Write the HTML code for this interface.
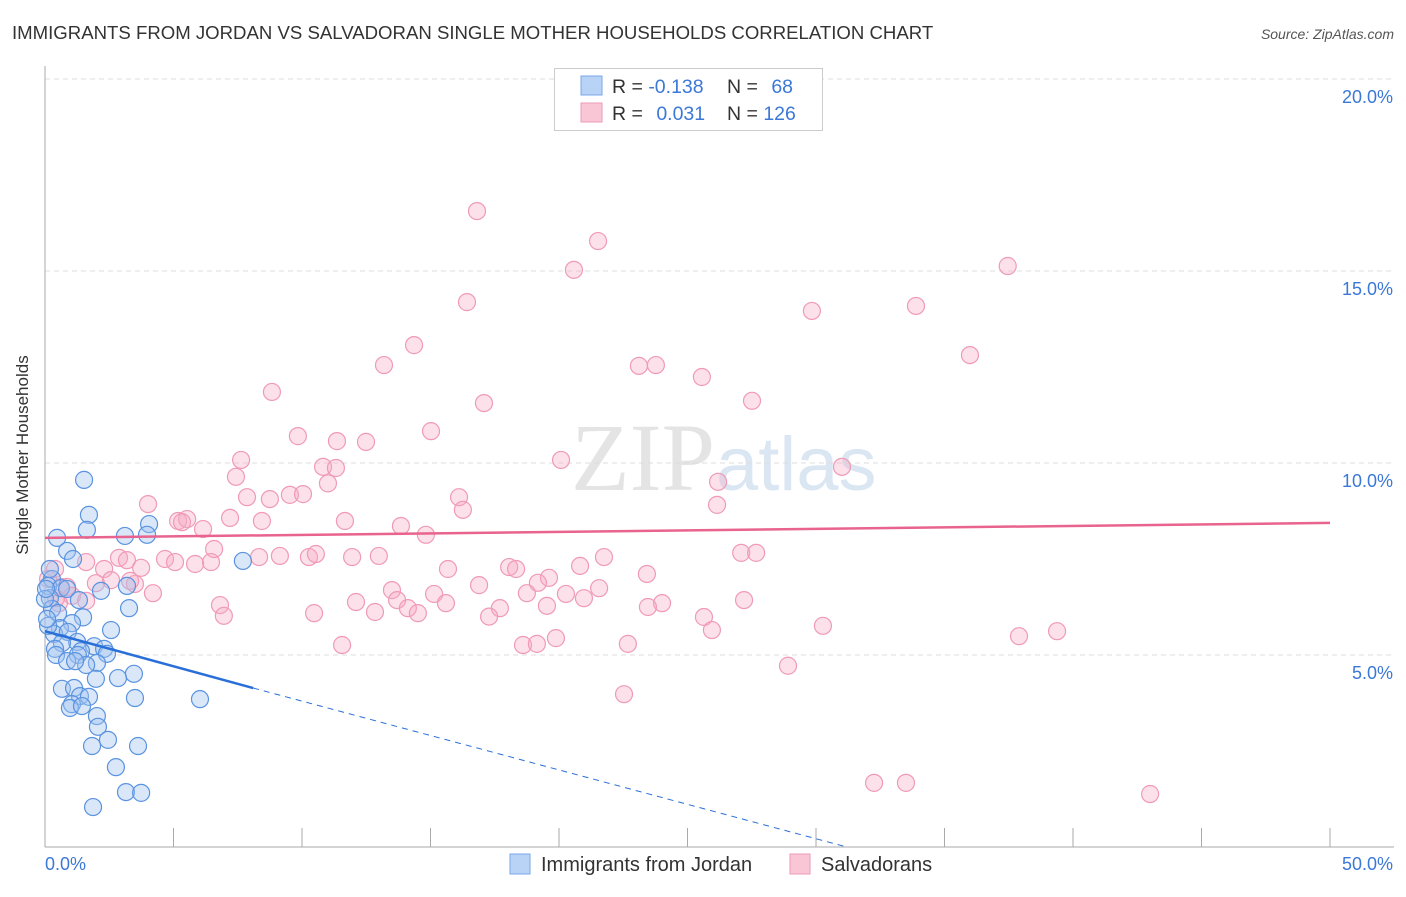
<!DOCTYPE html>
<html><head><meta charset="utf-8"><style>
body{margin:0;background:#fff;font-family:"Liberation Sans",sans-serif;}
</style></head><body>
<svg width="1406" height="892" viewBox="0 0 1406 892" xmlns="http://www.w3.org/2000/svg" font-family="Liberation Sans, sans-serif">
<text x="12" y="39" font-size="18.6" fill="#333">IMMIGRANTS FROM JORDAN VS SALVADORAN SINGLE MOTHER HOUSEHOLDS CORRELATION CHART</text>
<text x="1394" y="39" font-size="14" fill="#555" font-style="italic" text-anchor="end">Source: ZipAtlas.com</text>
<text x="715" y="490" font-size="96" fill="#e4e4e4" text-anchor="end" font-family="Liberation Serif, serif">ZIP</text>
<text x="716" y="490" font-size="76" fill="#dbe6f3">atlas</text>
<g id="grid"></g><g id="axes"></g><g id="pts"></g><g id="lines"></g>
<text x="28" y="455" font-size="17" fill="#333" text-anchor="middle" transform="rotate(-90 28 455)">Single Mother Households</text>
<g>
<rect x="554.5" y="68.5" width="268" height="62" fill="#fff" stroke="#ccc"/>
<rect x="581" y="76" width="21" height="19" fill="#b8d3f5" stroke="#7aa7e8"/>
<rect x="581" y="103" width="21" height="19" fill="#f9c6d6" stroke="#ee9ab4"/>
<text x="612" y="93" font-size="19.5" fill="#333">R = <tspan fill="#3b78d8">-0.138</tspan></text>
<text x="727" y="93" font-size="19.5" fill="#333">N = <tspan fill="#3b78d8" dx="8">68</tspan></text>
<text x="612" y="120" font-size="19.5" fill="#333">R = <tspan fill="#3b78d8" dx="8">0.031</tspan></text>
<text x="727" y="120" font-size="19.5" fill="#333">N = <tspan fill="#3b78d8">126</tspan></text>
</g>
<g>
<rect x="510" y="854" width="20" height="20" fill="#b8d3f5" stroke="#7aa7e8"/>
<text x="541" y="871" font-size="20" fill="#333">Immigrants from Jordan</text>
<rect x="790" y="854" width="20" height="20" fill="#f9c6d6" stroke="#ee9ab4"/>
<text x="821" y="871" font-size="20" fill="#333">Salvadorans</text>
</g>
</svg>
<script>
const yTicks=[5,10,15,20];
const xTickLabels=["0.0%","50.0%"];
const blueX=[1.52,1.71,1.63,4.05,3.97,3.11,0.47,0.86,1.09,7.70,0.27,0.12,0.62,2.18,3.19,0.86,0.19,1.32,0.27,0.51,3.27,1.48,1.05,0.58,2.57,0.35,0.89,0.12,1.25,0.66,1.91,0.39,1.40,2.30,1.28,2.41,0.43,0.86,2.02,1.60,1.17,3.46,2.84,1.98,0.66,1.13,1.36,1.71,3.50,6.03,1.05,0.97,1.44,2.02,2.06,2.45,1.83,3.62,2.76,3.15,3.74,1.87,0.0,0.08,0.04,0.19];
const blueY=[9.56,8.65,8.26,8.41,8.13,8.10,8.05,7.71,7.50,7.45,6.98,6.80,6.74,6.67,6.80,6.72,6.48,6.43,6.20,6.09,6.22,5.98,5.83,5.70,5.65,5.55,5.60,5.76,5.34,5.31,5.23,5.16,5.10,5.16,5.00,5.03,5.00,4.84,4.79,4.74,4.84,4.51,4.40,4.38,4.12,4.14,3.93,3.91,3.88,3.85,3.72,3.62,3.67,3.41,3.13,2.79,2.63,2.63,2.08,1.43,1.41,1.04,6.46,5.94,6.72,7.24];
const pinkX=[16.81,21.52,20.58,37.46,16.42,29.84,33.89,14.36,13.19,23.11,23.77,35.99,25.56,8.83,17.08,27.51,15.02,9.84,11.36,12.49,20.08,7.63,10.82,31.01,11.32,7.43,26.19,11.01,16.11,9.53,7.86,10.04,8.75,4.01,16.26,26.15,5.18,5.53,5.33,8.44,6.15,7.20,11.67,13.85,14.82,6.58,2.88,1.60,4.67,8.33,10.27,9.14,11.95,12.99,10.54,21.75,3.19,2.30,5.06,3.74,6.46,5.84,15.68,18.06,18.33,20.82,23.42,27.09,27.67,3.50,2.57,1.98,3.31,16.89,19.61,19.18,0.62,0.86,13.50,18.75,21.56,15.14,20.27,20.97,13.70,1.05,4.20,12.10,1.60,0.54,27.20,24.01,6.81,15.60,17.70,12.84,14.12,19.53,10.47,14.51,23.46,6.96,17.28,25.64,25.95,30.27,39.38,37.90,11.56,18.60,19.14,19.88,22.68,28.91,22.53,32.26,33.50,43.00,0.43,0.12,0.39];
const pinkY=[16.56,15.78,15.03,15.13,14.19,13.96,14.09,13.07,12.55,12.53,12.55,12.81,12.24,11.85,11.56,11.62,10.83,10.70,10.57,10.55,10.08,10.08,9.90,9.90,9.87,9.64,9.51,9.47,9.11,9.17,9.11,9.19,9.06,8.93,8.78,8.91,8.49,8.54,8.46,8.49,8.28,8.57,8.49,8.36,8.13,7.76,7.53,7.42,7.50,7.55,7.55,7.58,7.55,7.58,7.63,7.55,7.47,7.24,7.42,7.27,7.42,7.37,7.24,7.29,7.24,7.32,7.11,7.66,7.66,6.85,6.95,6.87,6.93,6.82,7.01,6.88,6.77,6.77,6.69,6.61,6.74,6.59,6.59,6.48,6.43,6.54,6.61,6.38,6.41,6.35,6.43,6.35,6.30,6.35,6.22,6.12,6.22,6.28,6.09,6.09,6.25,6.02,6.00,5.99,5.65,5.76,5.62,5.49,5.26,5.26,5.29,5.44,5.29,4.72,3.98,1.67,1.67,1.38,6.48,6.98,7.24];
const X0=45,X1=1330,Y0=847,PPU=38.4;
const xs=v=>X0+(X1-X0)*v/50, ys=v=>Y0-PPU*v;
const NS="http://www.w3.org/2000/svg";
function mk(p,t,a){const e=document.createElementNS(NS,t);for(const k in a)e.setAttribute(k,a[k]);document.getElementById(p).appendChild(e);return e;}
yTicks.forEach(t=>{
 const l=mk('grid','line',{x1:X0,x2:1394,y1:ys(t),y2:ys(t),stroke:'#ddd','stroke-dasharray':'5,4'});
 
 
 const tx=mk('grid','text',{x:1393,y:ys(t)+24,'font-size':18,fill:'#3b78d8','text-anchor':'end'});
 tx.textContent=t.toFixed(1)+'%';
 
 
});
const ax=mk('axes','line',{x1:X0,x2:X0,y1:66,y2:847,stroke:'#aaa'});


const bx=mk('axes','line',{x1:X0,x2:1394,y1:847,y2:847,stroke:'#aaa'});


for(let i=0;i<=10;i++){const x=xs(i*5);const t=mk('axes','line',{x1:x,x2:x,y1:828,y2:847,stroke:'#aaa'});
 
 }
[[0,45,'start'],[50,1393,'end']].forEach((d,i)=>{const t=mk('axes','text',{x:d[1],y:870,'font-size':18,fill:'#3b78d8','text-anchor':d[2]});t.textContent=xTickLabels[i];
 
 });
pinkX.forEach((v,i)=>{const c=mk('pts','circle',{cx:xs(v),cy:ys(pinkY[i]),r:8.5,fill:'rgba(246,170,196,0.35)',stroke:'#f09ab6','stroke-width':1.2});
 
 });
blueX.forEach((v,i)=>{const c=mk('pts','circle',{cx:xs(v),cy:ys(blueY[i]),r:8.5,fill:'rgba(160,196,240,0.4)',stroke:'#5a93e0','stroke-width':1.2});
 
 });
const bl=mk('lines','line',{x1:xs(0),y1:ys(5.62),x2:xs(8.1),y2:ys(4.14),stroke:'#2a6fd8','stroke-width':2.5});


const bd=mk('lines','line',{x1:xs(8.1),y1:ys(4.14),x2:xs(31.2),y2:ys(0),stroke:'#2a6fd8','stroke-width':1,'stroke-dasharray':'6,5'});


const pl=mk('lines','line',{x1:xs(0),y1:ys(8.05),x2:xs(50),y2:ys(8.44),stroke:'#e8638d','stroke-width':2.5});


</script>
</body></html>
